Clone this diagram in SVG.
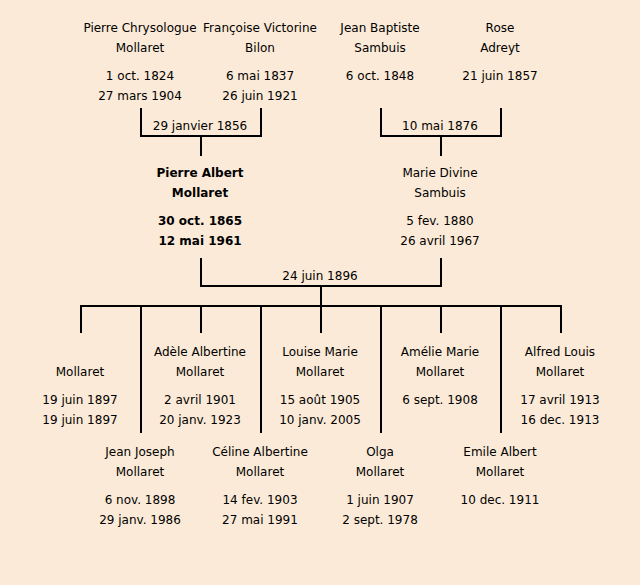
<svg xmlns="http://www.w3.org/2000/svg" width="640" height="585" viewBox="0 0 640 585">
<style>
text{font-family:"Comic Sans MS","DejaVu Sans",sans-serif;font-size:12px;fill:#000;text-anchor:middle}
.b{font-weight:bold}
.c{stroke:#000;stroke-width:2;fill:none}
</style>
<rect width="640" height="585" fill="#FBEAD7"/>
<g id="connectors" class="c">
<path d="M141,108V136H261V108M201,136V156"/>
<path d="M381,108V136H501V108M441,136V156"/>
<path d="M201,258V286H441V258M321,286V306"/>
<path d="M81,333V306H561V333"/>
<path d="M201,306V333M321,306V333M441,306V333"/>
<path d="M141,306V433M261,306V433M381,306V433M501,306V433"/>
</g>
<g id="m1"><text x="200" y="130">29 janvier 1856</text></g>
<g id="m2"><text x="440" y="130">10 mai 1876</text></g>
<g id="m3"><text x="320" y="280">24 juin 1896</text></g>
<g id="p1"><text x="140" y="32">Pierre Chrysologue</text><text x="140" y="52">Mollaret</text><text x="140" y="80">1 oct. 1824</text><text x="140" y="100">27 mars 1904</text></g>
<g id="p2"><text x="260" y="32">Françoise Victorine</text><text x="260" y="52">Bilon</text><text x="260" y="80">6 mai 1837</text><text x="260" y="100">26 juin 1921</text></g>
<g id="p3"><text x="380" y="32">Jean Baptiste</text><text x="380" y="52">Sambuis</text><text x="380" y="80">6 oct. 1848</text></g>
<g id="p4"><text x="500" y="32">Rose</text><text x="500" y="52">Adreyt</text><text x="500" y="80">21 juin 1857</text></g>
<g id="p5" class="b"><text x="200" y="177">Pierre Albert</text><text x="200" y="197">Mollaret</text><text x="200" y="225">30 oct. 1865</text><text x="200" y="245">12 mai 1961</text></g>
<g id="p6"><text x="440" y="177">Marie Divine</text><text x="440" y="197">Sambuis</text><text x="440" y="225">5 fev. 1880</text><text x="440" y="245">26 avril 1967</text></g>
<g id="c1"><text x="80" y="376">Mollaret</text><text x="80" y="404">19 juin 1897</text><text x="80" y="424">19 juin 1897</text></g>
<g id="c2"><text x="140" y="456">Jean Joseph</text><text x="140" y="476">Mollaret</text><text x="140" y="504">6 nov. 1898</text><text x="140" y="524">29 janv. 1986</text></g>
<g id="c3"><text x="200" y="356">Adèle Albertine</text><text x="200" y="376">Mollaret</text><text x="200" y="404">2 avril 1901</text><text x="200" y="424">20 janv. 1923</text></g>
<g id="c4"><text x="260" y="456">Céline Albertine</text><text x="260" y="476">Mollaret</text><text x="260" y="504">14 fev. 1903</text><text x="260" y="524">27 mai 1991</text></g>
<g id="c5"><text x="320" y="356">Louise Marie</text><text x="320" y="376">Mollaret</text><text x="320" y="404">15 août 1905</text><text x="320" y="424">10 janv. 2005</text></g>
<g id="c6"><text x="380" y="456">Olga</text><text x="380" y="476">Mollaret</text><text x="380" y="504">1 juin 1907</text><text x="380" y="524">2 sept. 1978</text></g>
<g id="c7"><text x="440" y="356">Amélie Marie</text><text x="440" y="376">Mollaret</text><text x="440" y="404">6 sept. 1908</text></g>
<g id="c8"><text x="500" y="456">Emile Albert</text><text x="500" y="476">Mollaret</text><text x="500" y="504">10 dec. 1911</text></g>
<g id="c9"><text x="560" y="356">Alfred Louis</text><text x="560" y="376">Mollaret</text><text x="560" y="404">17 avril 1913</text><text x="560" y="424">16 dec. 1913</text></g>
</svg>
